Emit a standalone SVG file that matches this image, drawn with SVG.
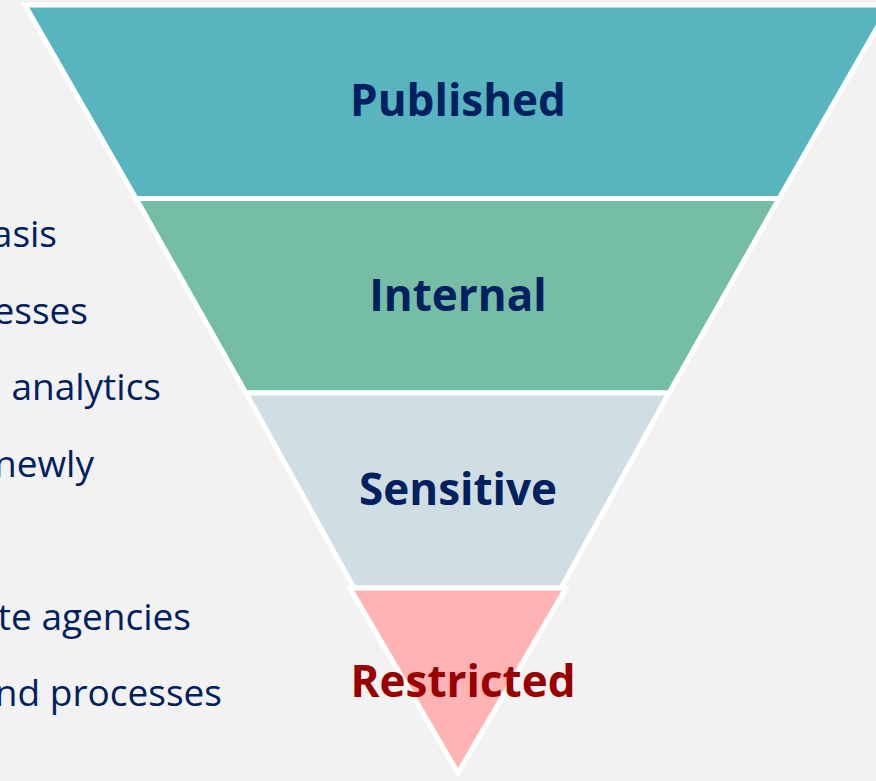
<svg xmlns="http://www.w3.org/2000/svg" width="876" height="781" viewBox="0 0 876 781">
  <style>
    .tier { stroke: #ffffff; stroke-width: 5; stroke-linejoin: miter; stroke-miterlimit: 10; }
    .label { font-family: "Open Sans", "Liberation Sans", sans-serif; font-weight: 700; font-size: 44px; text-anchor: middle; fill: #002060; }
    .note { font-family: "Open Sans", "Liberation Sans", sans-serif; font-size: 37px; text-anchor: end; fill: #002060; }
  </style>
  <rect width="876" height="781" fill="#f2f2f2"/>

  <!-- side notes (left part runs off the canvas) -->
  <g id="notes">
    <text class="note" x="57" y="247">asis</text>
    <text class="note" x="88" y="324">esses</text>
    <text class="note" x="161" y="400">analytics</text>
    <text class="note" x="94" y="477">newly</text>
    <text class="note" x="191" y="630">te agencies</text>
    <text class="note" x="222" y="706">nd processes</text>
  </g>

  <!-- inverted pyramid tiers -->
  <g id="tier-published">
    <polygon class="tier" fill="#58b5bf" points="25,5 890,5 779,198.5 136,198.5"/>
    <text class="label" x="458" y="116">Published</text>
  </g>
  <g id="tier-internal">
    <polygon class="tier" fill="#75bda5" points="136,198.5 779,198.5 669,393 246,393"/>
    <text class="label" x="458" y="311">Internal</text>
  </g>
  <g id="tier-sensitive">
    <polygon class="tier" fill="#cfdee3" points="246,393 669,393 561,588 354,588"/>
    <text class="label" x="458" y="505">Sensitive</text>
  </g>
  <g id="tier-restricted">
    <polygon class="tier" fill="#ffb3b3" points="350,588 566,588 458,773"/>
    <text class="label" x="463" y="697" style="fill:#990000">Restricted</text>
  </g>
</svg>
